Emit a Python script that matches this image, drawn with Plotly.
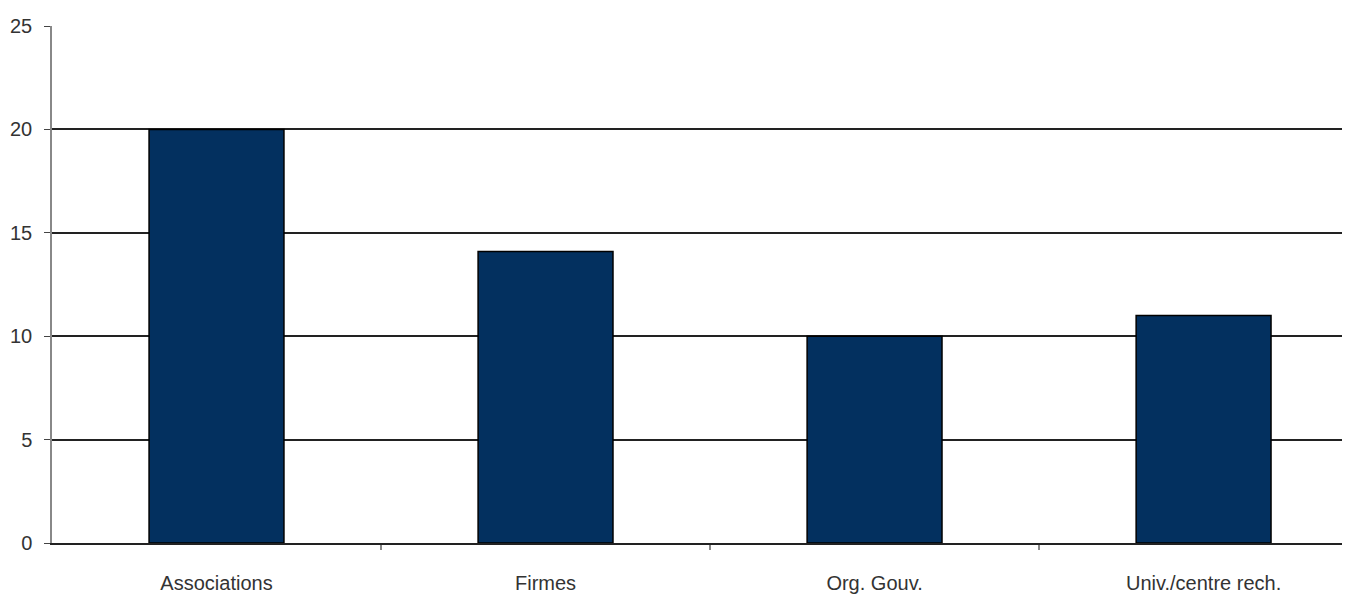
import plotly.graph_objects as go

categories = ["Associations", "Firmes", "Org. Gouv.", "Univ./centre rech."]
values = [20, 14.1, 10, 11]
y_ticks = [0, 5, 10, 15, 20, 25]
grid_vals = [5, 10, 15, 20]
sep_vals = [0.5, 1.5, 2.5]

font_family = "Liberation Sans, Arial, sans-serif"

fig = go.Figure(
    go.Bar(
        x=list(range(len(categories))),
        y=values,
        width=0.41,
        marker=dict(color="#03305f", line=dict(color="#000000", width=1.5)),
    )
)

fig.update_layout(
    width=1342,
    height=586,
    margin=dict(l=44, r=0, t=18, b=49),
    plot_bgcolor="white",
    paper_bgcolor="white",
    showlegend=False,
    font=dict(family=font_family, size=20, color="#333333"),
)

fig.update_xaxes(
    range=[-0.5, 3.445],
    tickmode="array",
    tickvals=list(range(len(categories))),
    ticktext=categories,
    ticks="outside",
    ticklen=21,
    tickcolor="rgba(0,0,0,0)",
    showgrid=False,
    showline=True,
    linecolor="#222222",
    linewidth=1.5,
    zeroline=False,
    minor=dict(tickvals=sep_vals, ticks="outside", ticklen=5, tickcolor="#888888", tickwidth=1.5, showgrid=False),
)

fig.update_yaxes(
    range=[0, 25],
    tickmode="array",
    tickvals=y_ticks,
    ticks="outside",
    ticklen=6,
    tickcolor="#444444",
    ticklabelstandoff=8,
    showgrid=False,
    showline=True,
    linecolor="#888888",
    linewidth=1.5,
    zeroline=False,
    minor=dict(tickvals=grid_vals, showgrid=True, gridcolor="#222222", gridwidth=1.5, ticks=""),
)

fig.write_html("out.html")
